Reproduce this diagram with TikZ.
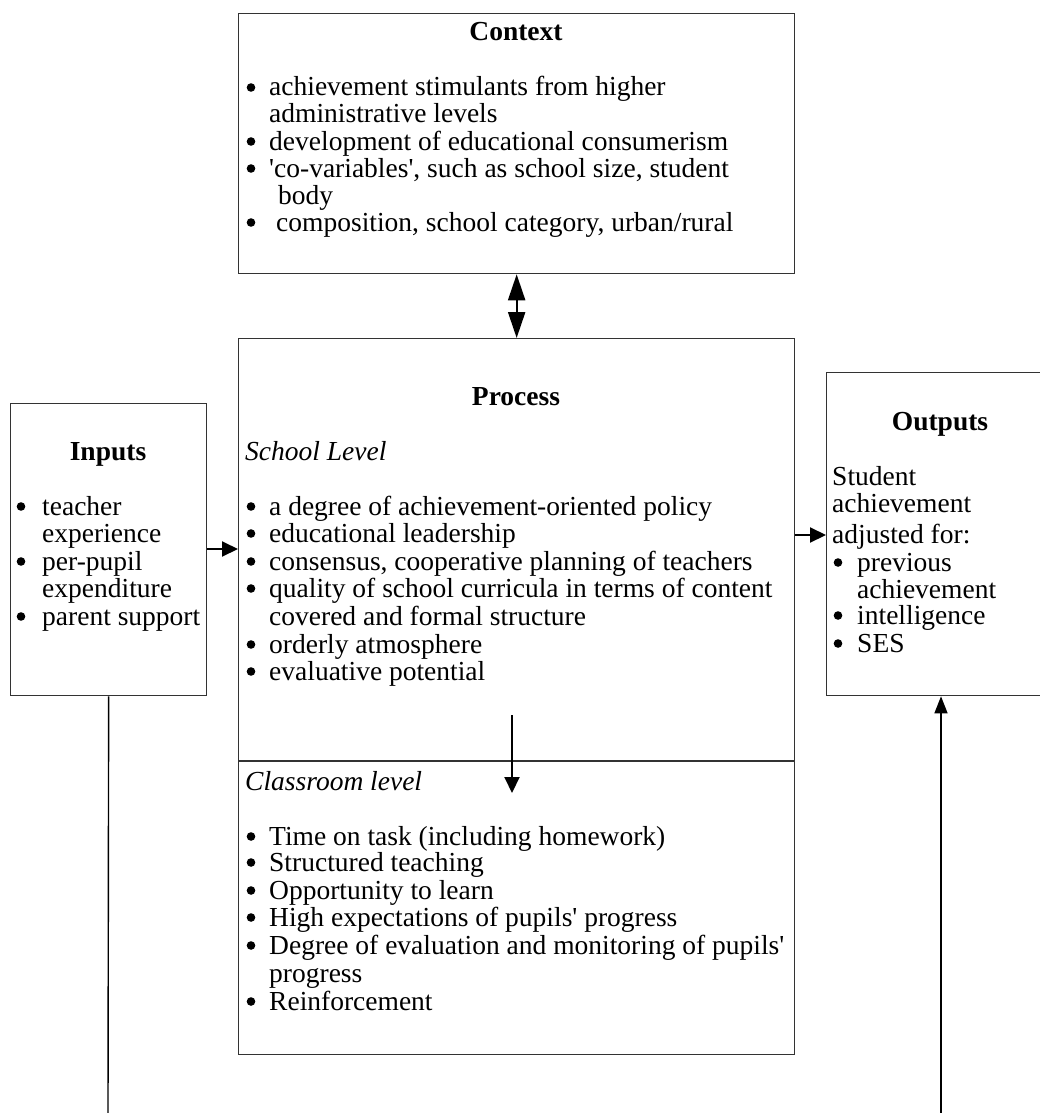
\documentclass[tikz,border=0pt]{standalone}
\usepackage{fontspec}
\setmainfont{Liberation Serif}[Ligatures=TeXOff]
\usetikzlibrary{arrows.meta}
\begin{document}
\begin{tikzpicture}[x=1pt,y=-1pt,
  box/.style={draw=black!80,line width=1.3pt,anchor=north west,inner sep=0pt},
  txt/.style={anchor=base west,inner sep=0pt,font=\fontsize{27.5}{27.5}\selectfont},
  itl/.style={txt,font=\fontsize{27.5}{27.5}\selectfont\itshape},
  ttl/.style={anchor=base,inner sep=0pt,font=\fontsize{27.5}{27.5}\selectfont\bfseries},
  dot/.style={circle,fill=black,inner sep=0pt,minimum size=8.6pt},
  rule/.style={draw=black!80,line width=1.3pt},
  conn/.style={line width=2pt,-{Triangle[length=16pt,width=15pt]}},
  dbl/.style={line width=2.2pt,{Triangle[length=26pt,width=17pt]}-{Triangle[length=26pt,width=17pt]}},
  thin/.style={line width=1.4pt}]
\useasboundingbox (0,0) rectangle (1040,1113);
\clip (0,0) rectangle (1040,1113);

% ---------- Context ----------
\node[box,minimum width=556pt,minimum height=260pt] (ctx) at (238,13) {};
\node[ttl] (ctxT) at (516,41) {Context};
\foreach \y in {96,150,177,231}
  \node[dot] (cb\y) at (251,\y-8.5) {};
\node[txt] (c1) at (269,96) {achievement stimulants from higher};
\node[txt] (c2) at (269,123) {administrative levels};
\node[txt] (c3) at (269,150) {development of educational consumerism};
\node[txt] (c4) at (269,177) {'co-variables', such as school size, student};
\node[txt] (c5) at (278,204) {body};
\node[txt] (c6) at (276,231) {composition, school category, urban/rural};

% ---------- Process ----------
\node[box,minimum width=556pt,minimum height=716pt] (proc) at (238,338) {};
\coordinate (divL) at (238,761);
\coordinate (divR) at (794,761);
\draw[rule] (divL) -- (divR);
\node[ttl] (procT) at (516,405) {Process};
\node[itl] (sch) at (245,460) {School Level};
\foreach \y in {515,542,570,597,653,680}
  \node[dot] (sb\y) at (251,\y-8.5) {};
\node[txt] (s1) at (269,515) {a degree of achievement-oriented policy};
\node[txt] (s2) at (269,542) {educational leadership};
\node[txt] (s3) at (269,570) {consensus, cooperative planning of teachers};
\node[txt] (s4) at (269,597) {quality of school curricula in terms of content};
\node[txt] (s5) at (269,625) {covered and formal structure};
\node[txt] (s6) at (269,653) {orderly atmosphere};
\node[txt] (s7) at (269,680) {evaluative potential};

\node[itl] (cls) at (245,790) {Classroom level};
\foreach \y in {845,871,899,926,954,1010}
  \node[dot] (kb\y) at (251,\y-8.5) {};
\node[txt] (k1) at (269,845) {Time on task (including homework)};
\node[txt] (k2) at (269,871) {Structured teaching};
\node[txt] (k3) at (269,899) {Opportunity to learn};
\node[txt] (k4) at (269,926) {High expectations of pupils' progress};
\node[txt] (k5) at (269,954) {Degree of evaluation and monitoring of pupils'};
\node[txt] (k6) at (269,982) {progress};
\node[txt] (k7) at (269,1010) {Reinforcement};

% ---------- Inputs ----------
\node[box,minimum width=196pt,minimum height=292pt] (inp) at (10,403) {};
\node[ttl] (inpT) at (108,460) {Inputs};
\foreach \y in {515,570,625}
  \node[dot] (ib\y) at (21,\y-8.5) {};
\node[txt] (i1) at (42,515) {teacher};
\node[txt] (i2) at (42,542) {experience};
\node[txt] (i3) at (42,570) {per-pupil};
\node[txt] (i4) at (42,597) {expenditure};
\node[txt] (i5) at (42,625) {parent support};

% ---------- Outputs ----------
\node[box,minimum width=228pt,minimum height=323pt] (outp) at (826,372) {};
\node[ttl] (outT) at (940,430) {Outputs};
\node[txt] (o1) at (832,485) {Student};
\node[txt] (o2) at (832,512) {achievement};
\node[txt] (o3) at (832,543) {adjusted for:};
\foreach \y in {571,624,652}
  \node[dot] (ob\y) at (838,\y-8.5) {};
\node[txt] (o4) at (857,571) {previous};
\node[txt] (o5) at (857,598) {achievement};
\node[txt] (o6) at (857,624) {intelligence};
\node[txt] (o7) at (857,652) {SES};

% ---------- Connectors ----------
\draw[dbl] (ctx.south) -- (proc.north);
\draw[conn] (inp.east |- 0,549) -- (proc.west |- 0,549);
\draw[conn] (proc.east |- 0,535) -- (outp.west |- 0,535);
\coordinate (dstart) at (512,715);
\coordinate (dend) at (512,793);
\draw[conn] (dstart) -- (dend);
\coordinate (lbot) at (108,1114);
\draw[thin] (inp.south) -- (lbot);
\coordinate (rbot) at (941,1114);
\draw[thin,-{Triangle[length=17pt,width=13pt]}] (rbot) -- (rbot |- outp.south);
\end{tikzpicture}
\end{document}
